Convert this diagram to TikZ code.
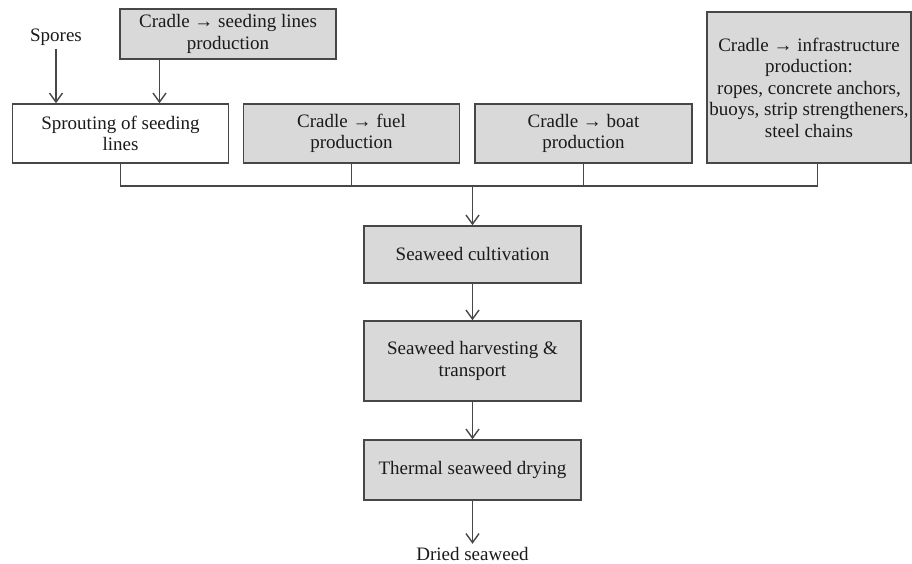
\documentclass[tikz,border=0pt]{standalone}
\usepackage{fontspec}
\setmainfont{Liberation Serif}
\usetikzlibrary{arrows.meta,calc}
\definecolor{boxfill}{HTML}{D9D9D9}
\definecolor{edge}{HTML}{474747}
\definecolor{ink}{HTML}{1A1A1A}
\tikzset{
  box/.style={draw=edge, line width=1.5pt, fill=boxfill, align=center, inner sep=2pt, text=ink, font=\fontsize{19}{21.5}\selectfont},
  wbox/.style={box, fill=white},
  plain/.style={align=center, text=ink, font=\fontsize{19}{21.5}\selectfont},
  conn/.style={draw=edge, line width=1.5pt},
  arr/.style={conn, -{Straight Barb[length=9pt,width=13pt,line width=1.4pt]}}
}
\begin{document}
\begin{tikzpicture}[x=1pt,y=-1pt]
\useasboundingbox (0,0) rectangle (912,564);
\node[box, minimum width=216, minimum height=50] (seed) at (228,34) {Cradle → seeding lines\\production};
\node[plain] (spores) at (56,37) {Spores};
\node[wbox, minimum width=216, minimum height=59] (sprout) at (120.5,133.5) {Sprouting of seeding\\lines};
\node[box, minimum width=216, minimum height=59] (fuel) at (351.5,133.5) {Cradle → fuel\\production};
\node[box, minimum width=217, minimum height=59] (boat) at (583.5,133.5) {Cradle → boat\\production};
\node[box, minimum width=204, minimum height=151, inner sep=0pt] (infra) at (809,87.5) {Cradle → infrastructure\\production:\\ropes, concrete anchors,\\buoys, strip strengtheners,\\steel chains};
\node[box, minimum width=217, minimum height=57] (cult) at (472.5,254.5) {Seaweed cultivation};
\node[box, minimum width=217, minimum height=80] (harv) at (472.5,361) {Seaweed harvesting \&\\transport};
\node[box, minimum width=217, minimum height=60] (dry) at (472.5,470) {Thermal seaweed drying};
\node[plain] (dried) at (472.5,554) {Dried seaweed};
\coordinate (bus) at (472.5,186);
\coordinate (infdrop) at ($(infra.south)+(8.5,0)$);
\coordinate (seeddrop) at ($(seed.south)+(-68.5,0)$);
\draw[arr] (spores.south) -- (spores.south |- sprout.north);
\draw[arr] (seeddrop) -- (seeddrop |- sprout.north);
\draw[conn] (sprout.south) |- (infdrop |- bus) -- (infdrop);
\draw[conn] (fuel.south) -- (fuel.south |- bus);
\draw[conn] (boat.south) -- (boat.south |- bus);
\draw[arr] (bus) -- (cult.north);
\draw[arr] (cult.south) -- (harv.north);
\draw[arr] (harv.south) -- (dry.north);
\draw[arr] (dry.south) -- (dried.north);
\end{tikzpicture}
\end{document}
